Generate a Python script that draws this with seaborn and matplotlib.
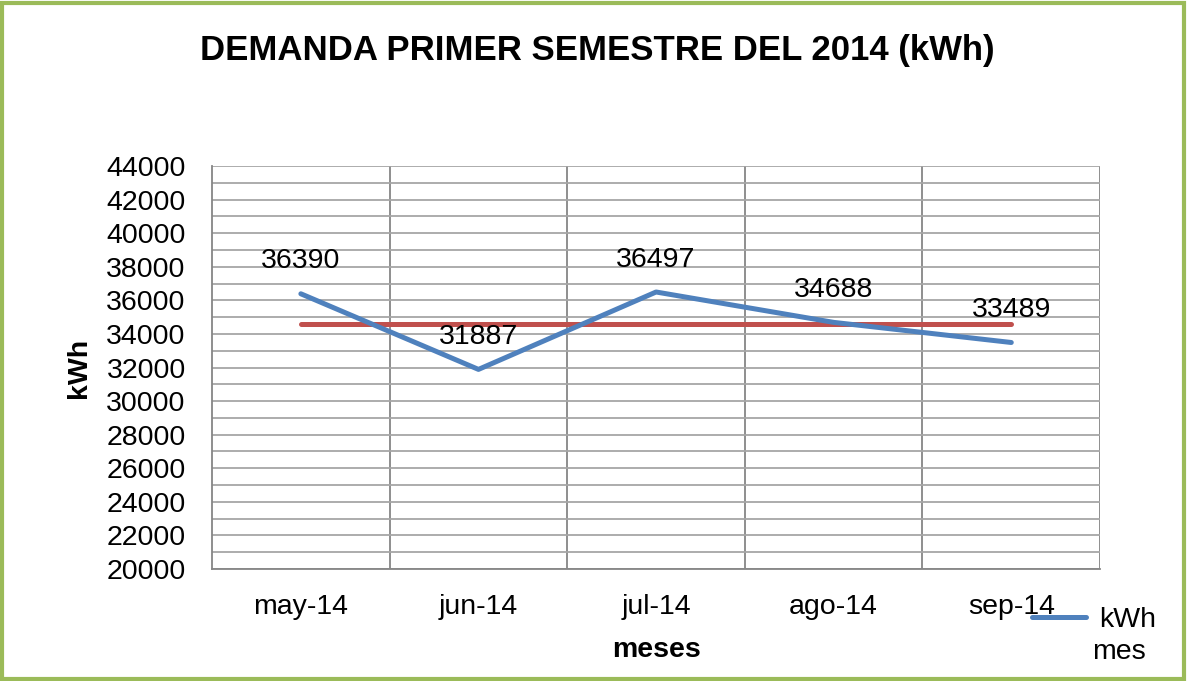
import matplotlib
matplotlib.use("Agg")
import matplotlib.pyplot as plt
import seaborn as sns
import pandas as pd
from matplotlib.ticker import MultipleLocator, FixedLocator
from matplotlib.lines import Line2D
from matplotlib.patches import Rectangle

# datos
meses = ["may-14", "jun-14", "jul-14", "ago-14", "sep-14"]
kwh_mes = [36390, 31887, 36497, 34688, 33489]
promedio = 34590

df = pd.DataFrame({"mes": meses, "kwh": kwh_mes})

sns.set_style("white")
plt.rcParams["font.family"] = ["Liberation Sans", "DejaVu Sans"]
plt.rcParams["text.color"] = "black"
plt.rcParams["xtick.color"] = "black"
plt.rcParams["ytick.color"] = "black"
plt.rcParams["axes.labelcolor"] = "black"

fig = plt.figure(figsize=(11.88, 6.81), dpi=100)
ax = fig.add_axes([0.1785, 0.1645, 0.7475, 0.5917])

azul = "#4F81BD"
rojo = "#C0504D"

sns.lineplot(data=df, x="mes", y="kwh", color=azul, linewidth=3.6, ax=ax,
             solid_capstyle="round", zorder=4)
sns.lineplot(x=meses, y=[promedio] * len(meses), color=rojo, linewidth=3.6, ax=ax,
             solid_capstyle="round", zorder=3)

# etiquetas de datos
for i, v in enumerate(kwh_mes):
    ax.annotate(str(v), (i, v), xytext=(0, 14), textcoords="offset points",
                ha="center", va="bottom", fontsize=20.5, color="black", zorder=5)

ax.set_ylim(20000, 44000)
ax.set_xlim(-0.5, 4.5)
ax.yaxis.set_major_locator(MultipleLocator(2000))
ax.yaxis.set_minor_locator(MultipleLocator(1000))
ax.xaxis.set_minor_locator(FixedLocator([0.5, 1.5, 2.5, 3.5, 4.5]))

ax.grid(True, axis="y", which="both", color="#A6A6A6", linewidth=1.3)
ax.grid(True, axis="x", which="minor", color="#868686", linewidth=1.3)
ax.grid(False, axis="x", which="major")
ax.set_axisbelow(True)

for s in ["left", "bottom"]:
    ax.spines[s].set_color("#868686")
    ax.spines[s].set_linewidth(1.3)
for s in ["top", "right"]:
    ax.spines[s].set_visible(False)

ax.tick_params(axis="y", which="major", direction="out", length=6, width=1.3,
               color="#868686", labelsize=20.5, pad=13)
ax.tick_params(axis="y", which="minor", length=0)
ax.tick_params(axis="x", which="both", length=0, labelsize=20.5, pad=18)

ax.set_xlabel("meses", fontsize=20.5, fontweight="bold", labelpad=12)
ax.set_ylabel("kWh", fontsize=20.5, fontweight="bold", labelpad=10)

fig.suptitle("DEMANDA PRIMER SEMESTRE DEL 2014 (kWh)", x=0.503, y=0.95,
             fontsize=25, fontweight="bold")

# leyenda
h = Line2D([], [], color=azul, linewidth=3.6, solid_capstyle="round")
fig.legend([h], ["kWh"], loc="center left", bbox_to_anchor=(0.869, 0.09),
           frameon=False, fontsize=20.5, handlelength=1.9, handletextpad=0.45,
           borderpad=0, borderaxespad=0)
fig.text(0.919, 0.042, "mes", fontsize=20.5, ha="left", va="center")

# borde verde
fig.patches.append(Rectangle((0.002, 0.003), 0.995, 0.993, transform=fig.transFigure,
                             fill=False, edgecolor="#9BBB59", linewidth=3))

fig.savefig("out.png", dpi=100)
